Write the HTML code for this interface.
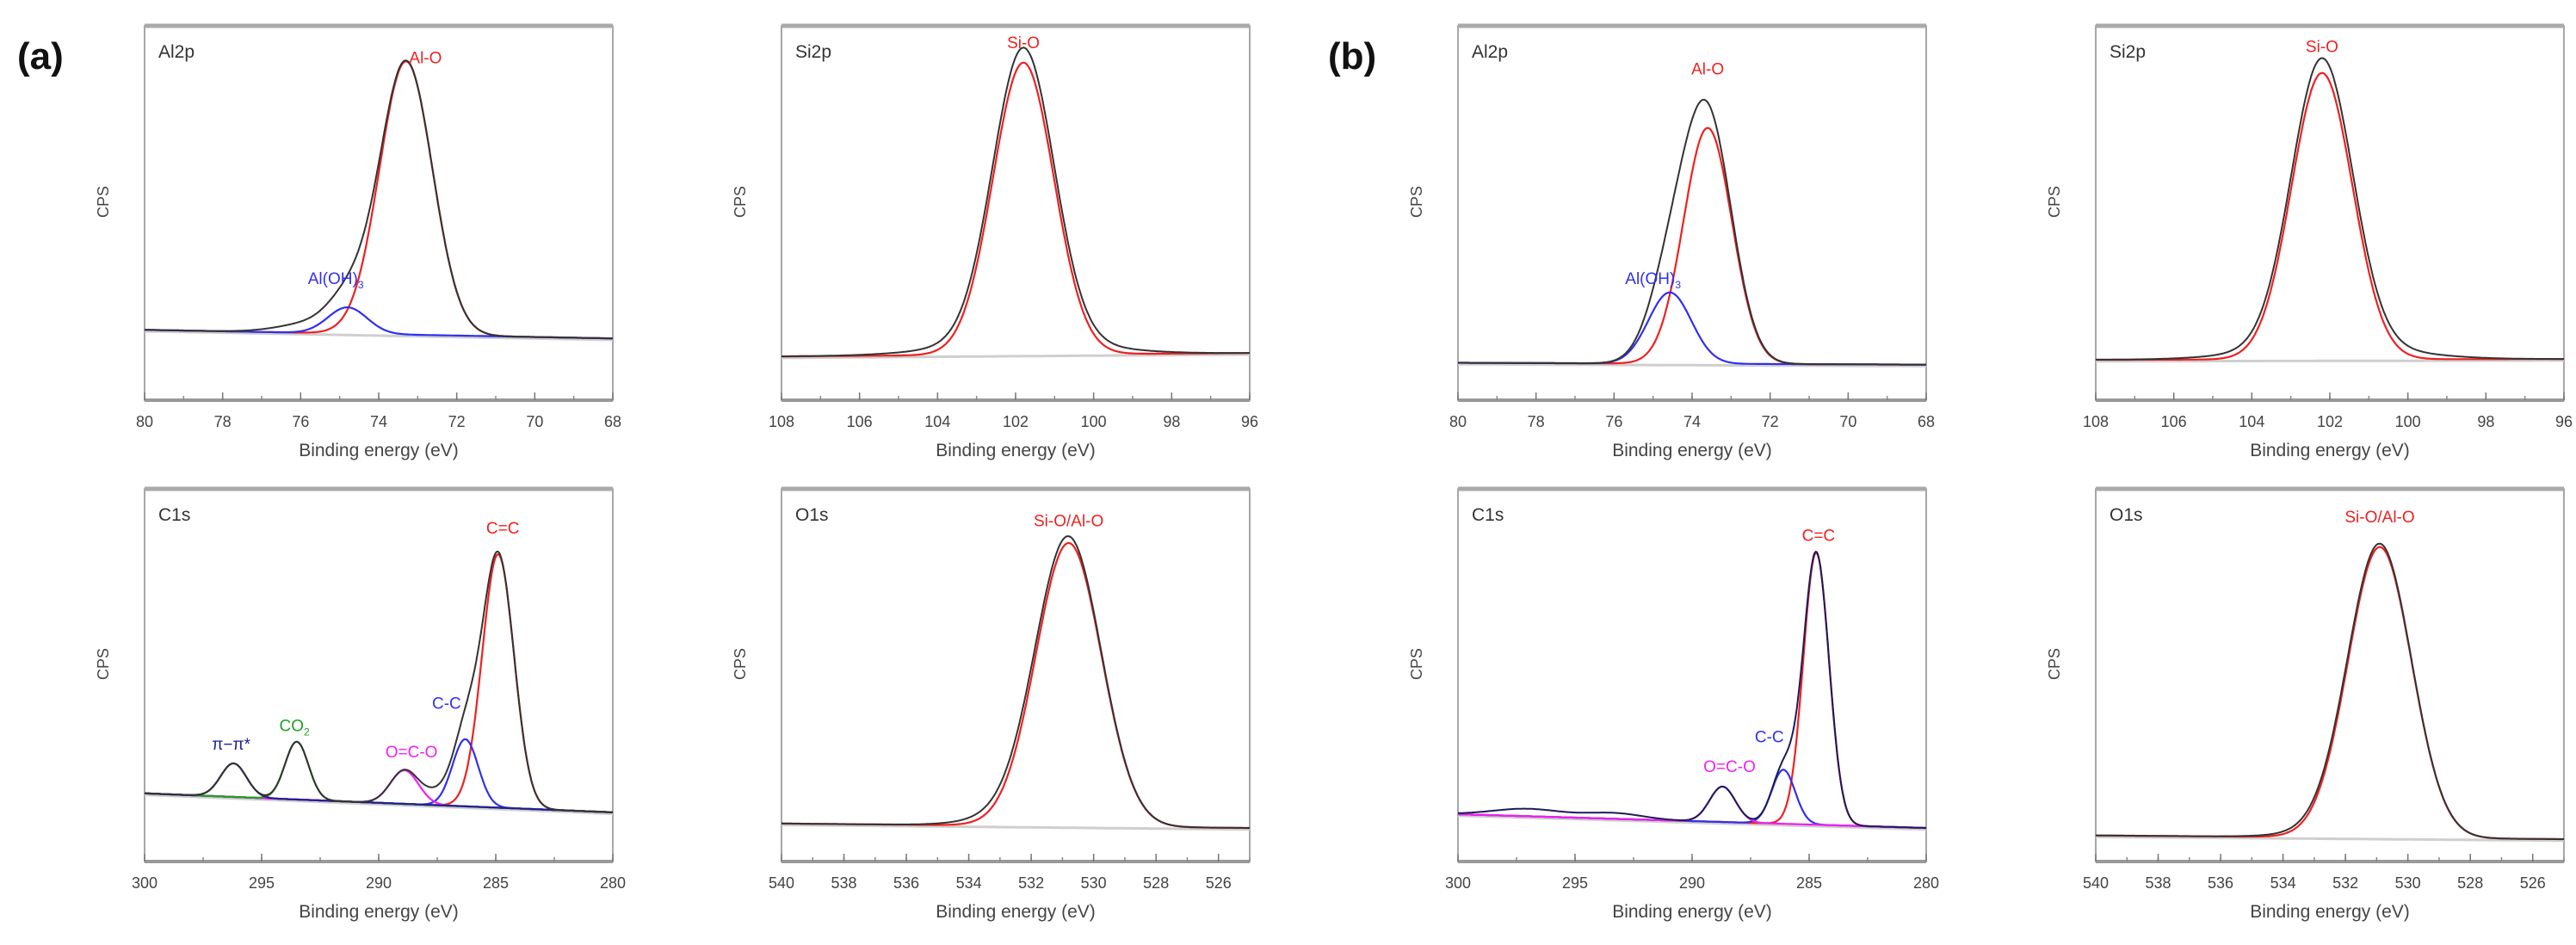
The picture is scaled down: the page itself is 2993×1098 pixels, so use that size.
<!DOCTYPE html>
<html><head><meta charset="utf-8">
<style>
html,body{margin:0;padding:0;background:#fff;}
body{width:2993px;height:1093px;overflow:hidden;font-family:"Liberation Sans",sans-serif;}
svg text{font-family:"Liberation Sans",sans-serif;}
</style></head>
<body>
<svg id="fig" width="2993" height="1093" viewBox="0 0 2993 1093" xmlns="http://www.w3.org/2000/svg">
<text x="20" y="80" font-size="44" font-weight="bold" fill="#111">(a)</text>
<text x="1543" y="80" font-size="44" font-weight="bold" fill="#111">(b)</text>
</svg>
<script>
// ---- data (binding energy eV, normalized intensity 0..1 of plot height) ----
const panelNames = ["a-al2p","a-si2p","a-c1s","a-o1s","b-al2p","b-si2p","b-c1s","b-o1s"];
const panelTitles = ["Al2p","Si2p","C1s","O1s","Al2p","Si2p","C1s","O1s"];
const xRanges = [[80,68],[108,96],[300,280],[540,525],[80,68],[108,96],[300,280],[540,525]];
const xTicks = [[80,78,76,74,72,70,68],[108,106,104,102,100,98,96],[300,295,290,285,280],[540,538,536,534,532,530,528,526],
                [80,78,76,74,72,70,68],[108,106,104,102,100,98,96],[300,295,290,285,280],[540,538,536,534,532,530,528,526]];
const minorStep = [1,1,2.5,1,1,1,2.5,1];
const baseLeft = [0.188,0.117,0.183,0.102,0.10,0.108,0.127,0.07];
const baseRight = [0.165,0.126,0.132,0.090,0.095,0.110,0.090,0.06];
// fitted components: [center, height, sigma]
const compCenters = [[73.3,74.8],[101.8],[284.9,286.3,288.9,293.5,296.2],[530.8],[73.6,74.57],[102.2],[284.7,286.1,288.7],[530.9]];
const compHeights = [[0.73,0.07],[0.78],[0.68,0.18,0.09,0.155,0.09],[0.76],[0.63,0.19],[0.765],[0.73,0.145,0.095],[0.78]];
const compSigmas  = [[0.68,0.5],[0.78],[0.68,0.55,0.6,0.5,0.55],[1.05],[0.62,0.55],[0.78],[0.55,0.5,0.55],[1.02]];
const compColors  = [["#f02020","#3030f0"],["#f02020"],["#f02020","#3030f0","#f020f0","#20a020","#202090"],["#f02020"],
                     ["#f02020","#3030f0"],["#f02020"],["#f02020","#3030f0","#f020f0"],["#f02020"]];
// extra envelope-only features: [center, height, sigma]
const extraCenters = [[75.5],[101.8],[287.5],[532.2],[73.9],[102.0],[297.0,293.3],[532.3]];
const extraHeights = [[0.03],[0.04],[0.03],[0.03],[0.03],[0.04],[0.02,0.015],[0.015]];
const extraSigmas  = [[0.9],[1.8],[0.6],[1.4],[0.8],[1.8],[1.5,1.2],[1.4]];
// peak labels
const labelText = [["Al-O","Al(OH)3"],["Si-O"],["C=C","C-C","O=C-O","CO2","π−π*"],["Si-O/Al-O"],["Al-O","Al(OH)3"],["Si-O"],["C=C","C-C","O=C-O"],["Si-O/Al-O"]];
const labelE = [[72.8,75.1],[101.8],[284.7,287.1,288.6,293.6,296.3],[530.8],[73.6,75.0],[102.2],[284.6,286.7,288.4],[530.9]];
const labelV = [[0.90,0.31],[0.94],[0.88,0.41,0.28,0.35,0.30],[0.90],[0.87,0.31],[0.93],[0.86,0.32,0.24],[0.91]];

// ---- layout ----
const colX = [168,908,1694,2435];
const panelW = 544;
const rowTop = [30,568];
const panelH = [435,433];

const svg = document.getElementById('fig');
const NS = "http://www.w3.org/2000/svg";
function mk(tag, attrs, parent){const e=document.createElementNS(NS,tag);for(const k in attrs)e.setAttribute(k,attrs[k]);(parent||svg).appendChild(e);return e;}
function gauss(x,c,h,s){return h*Math.exp(-0.5*((x-c)/s)*((x-c)/s));}

for(let p=0;p<8;p++){
  const col = (p<4? (p%2) : 2+(p%2));
  const row = (p%4<2)?0:1;
  const L = colX[col], T = rowTop[row], W = panelW, H = panelH[row], B = T+H;
  const [x0,x1] = xRanges[p];
  const sx = e => L + (x0-e)/(x0-x1)*W;
  const sy = v => B - v*H;
  const base = e => baseLeft[p] + (baseRight[p]-baseLeft[p])*(x0-e)/(x0-x1);
  const g = mk('g',{});
  
  
  const fr = mk('rect',{x:L,y:T,width:W,height:H,fill:'none',stroke:'#8a8a8a','stroke-width':1.5},g);
  
  
  const topL = mk('line',{x1:L,y1:T,x2:L+W,y2:T,stroke:'#aaa','stroke-width':5},g);
  
  
  const botL = mk('line',{x1:L,y1:B,x2:L+W,y2:B,stroke:'#999','stroke-width':4},g);
  
  
  for(let e=x0; e>=x1-1e-6; e-=minorStep[p]){
    const t = mk('line',{x1:sx(e),y1:B,x2:sx(e),y2:B-5,stroke:'#888','stroke-width':1.5},g);
    
    
  }
  xTicks[p].forEach(v=>{
    const t = mk('line',{x1:sx(v),y1:B,x2:sx(v),y2:B-9,stroke:'#777','stroke-width':1.5},g);
    
    
    const tl = mk('text',{x:sx(v),y:B+31,'font-size':18,fill:'#444','text-anchor':'middle'},g);
    tl.textContent = v;
    
    
  });
  const xl = mk('text',{x:L+W/2,y:B+65,'font-size':21,fill:'#444','text-anchor':'middle'},g);
  xl.textContent = 'Binding energy (eV)';
  
  
  const cy = T+H*0.47;
  const yl = mk('text',{x:L-42,y:cy,'font-size':18,fill:'#444','text-anchor':'middle',transform:`rotate(-90 ${L-42} ${cy})`},g);
  yl.textContent = 'CPS';
  
  
  const tt = mk('text',{x:L+16,y:T+37,'font-size':21,fill:'#333'},g);
  tt.textContent = panelTitles[p];
  
  
  const N = 500;
  let bp=[];
  for(let i=0;i<=N;i++){const e=x0-(x0-x1)*i/N;bp.push(sx(e).toFixed(1)+','+sy(base(e)-0.004).toFixed(1));}
  const bl = mk('polyline',{points:bp.join(' '),fill:'none',stroke:'#cfcfcf','stroke-width':3},g);
  
  
  compCenters[p].forEach((c,k)=>{
    let pts=[];
    for(let i=0;i<=N;i++){const e=x0-(x0-x1)*i/N;pts.push(sx(e).toFixed(1)+','+sy(base(e)+gauss(e,c,compHeights[p][k],compSigmas[p][k])).toFixed(1));}
    const pl = mk('polyline',{points:pts.join(' '),fill:'none',stroke:compColors[p][k],'stroke-width':2.2},g);
    
    
  });
  let ep=[];
  for(let i=0;i<=N;i++){
    const e=x0-(x0-x1)*i/N;
    let v=base(e);
    compCenters[p].forEach((c,k)=>{v+=gauss(e,c,compHeights[p][k],compSigmas[p][k]);});
    extraCenters[p].forEach((c,k)=>{v+=gauss(e,c,extraHeights[p][k],extraSigmas[p][k]);});
    ep.push(sx(e).toFixed(1)+','+sy(v).toFixed(1));
  }
  const env = mk('polyline',{points:ep.join(' '),fill:'none',stroke:(p===6?'#1c1c5a':'#333'),'stroke-width':2},g);
  
  
  labelText[p].forEach((t,k)=>{
    const lt = mk('text',{x:sx(labelE[p][k]),y:sy(labelV[p][k]),'font-size':19,fill:compColors[p][k],'text-anchor':'middle'},g);
    if(t==='Al(OH)3'){lt.textContent='Al(OH)';const s=mk('tspan',{'font-size':12,dy:5},lt);s.textContent='3';}
    else if(t==='CO2'){lt.textContent='CO';const s=mk('tspan',{'font-size':12,dy:5},lt);s.textContent='2';}
    else lt.textContent=t;
    
    
  });
}
</script>
</body></html>
